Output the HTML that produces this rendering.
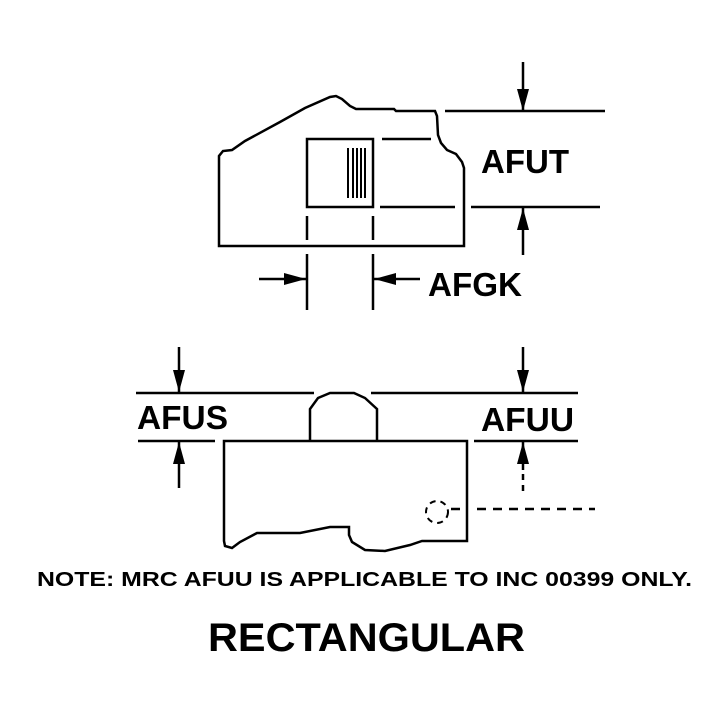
<!DOCTYPE html>
<html><head><meta charset="utf-8"><style>
html,body{margin:0;padding:0;background:#fff;width:716px;height:708px;overflow:hidden}
svg{display:block}
text{font-family:"Liberation Sans",Arial,sans-serif;font-weight:bold;fill:#000}
</style></head><body>
<svg width="716" height="708" viewBox="0 0 716 708" xmlns="http://www.w3.org/2000/svg">
<defs>
<marker id="a" viewBox="0 0 22 12" refX="22" refY="6" markerWidth="22" markerHeight="12" markerUnits="userSpaceOnUse" orient="auto"><path d="M0,0 L22,6 L0,12z" fill="#000"/></marker>
</defs>
<g stroke="#000" stroke-width="2.5" fill="none">
<path d="M219,246 L219,156 L223,151 L232,150 L245,141 L280,122 L305,108 L330,97 L336,96 L342,99 L350,106 L356,109 L394,109 L396,111 L435,111 L437,116 L438,135 L441,143 L447,150 L456,154 L462,162 L464,168 L464,246 Z"/>
<rect x="307" y="139" width="66" height="68"/>
<path d="M348,148V198M353,148V198M357,148V198M361,148V198M365,148V198" stroke-width="2"/>
<path d="M382,139H431M380,207H455M471,207H600M445,111H605"/>
<path d="M307,216V240M373,216V240M307,254V310M373,254V310"/>
<path d="M224,441 L467,441 L467,541 L422,541 L410,545 L385,551 L365,550 L352,542 L349,535 L349,527 L330,527 L300,533 L257,533 L240,542 L232,548 L225,546 L224,541 Z"/>
<path d="M310,441 L310,409 L318,398 L330,393 L354,393 L365,398 L377,409 L377,441"/>
<path d="M136,393H314M371,393H578M138,441H215M474,441H578"/>
<circle cx="437" cy="512" r="11" stroke-dasharray="6,5" stroke-width="2"/>
<path d="M451,509H463M477,509H595" stroke-dasharray="9,7"/>
<path d="M523,474V492" stroke-dasharray="6,5"/>
</g>
<g stroke="#000" stroke-width="2.5">
<line x1="523" y1="62" x2="523" y2="111" marker-end="url(#a)"/>
<line x1="523" y1="255" x2="523" y2="208" marker-end="url(#a)"/>
<line x1="259" y1="279" x2="306" y2="279" marker-end="url(#a)"/>
<line x1="420" y1="279" x2="374" y2="279" marker-end="url(#a)"/>
<line x1="179" y1="347" x2="179" y2="392" marker-end="url(#a)"/>
<line x1="179" y1="488" x2="179" y2="442" marker-end="url(#a)"/>
<line x1="523" y1="347" x2="523" y2="392" marker-end="url(#a)"/>
<line x1="523" y1="470" x2="523" y2="442" marker-end="url(#a)"/>
</g>
<text x="481" y="173" font-size="33" textLength="88" lengthAdjust="spacingAndGlyphs">AFUT</text>
<text x="428" y="296" font-size="33" textLength="94" lengthAdjust="spacingAndGlyphs">AFGK</text>
<text x="137" y="429" font-size="33" textLength="91" lengthAdjust="spacingAndGlyphs">AFUS</text>
<text x="481" y="431" font-size="33" textLength="93" lengthAdjust="spacingAndGlyphs">AFUU</text>
<text x="37" y="586" font-size="20" textLength="655" lengthAdjust="spacingAndGlyphs">NOTE: MRC AFUU IS APPLICABLE TO INC 00399 ONLY.</text>
<text x="208" y="651" font-size="40" textLength="317" lengthAdjust="spacingAndGlyphs">RECTANGULAR</text>
</svg>
</body></html>
